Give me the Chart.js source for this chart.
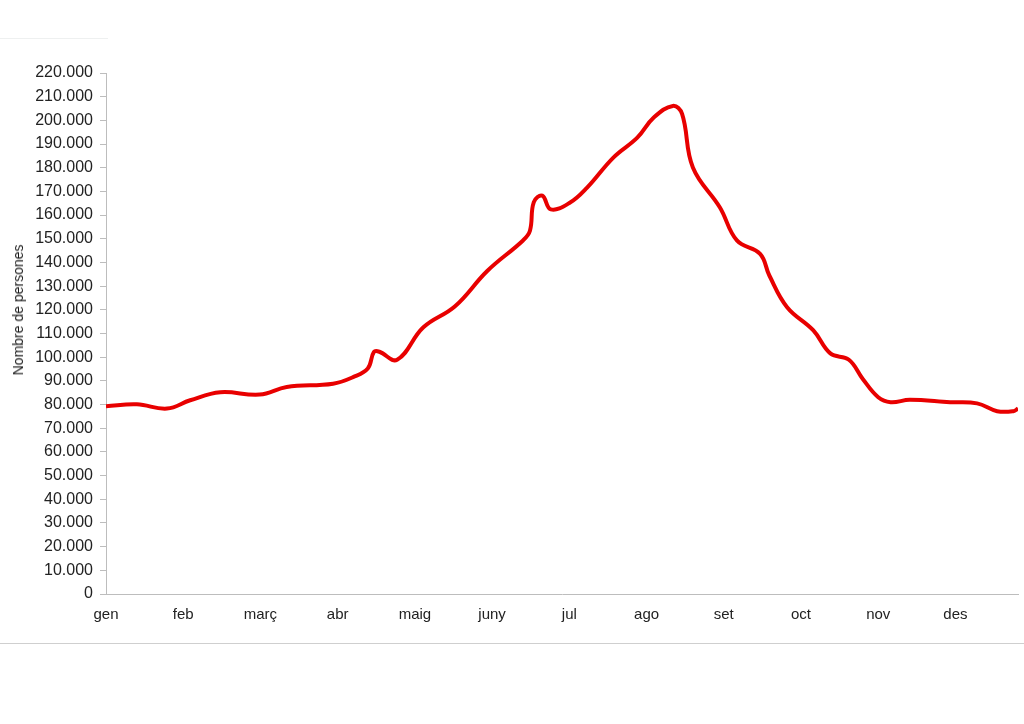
<!DOCTYPE html>
<html>
<head>
<meta charset="utf-8">
<script src="https://cdn.jsdelivr.net/npm/chart.js@4.4.0/dist/chart.umd.min.js"></script>
<style>
    body { margin: 0; background: #fff; }
    #wrap { position: relative; width: 1024px; height: 724px; }
    #chart { position: absolute; left: 0; top: 0; }
    .ytitle {
        position: absolute; left: 18px; top: 310px;
        transform: translate(-50%, -50%) rotate(-90deg);
        font: 14px "Liberation Sans", Arial, sans-serif; color: #1a1a1a;
        white-space: nowrap;
    }
    .frame-bottom { position: absolute; left: 0; top: 643px; width: 1024px; border-top: 1px solid #cfcfcf; }
    .frame-top { position: absolute; left: 0; top: 38px; width: 108px; border-top: 1px solid #eef0f0; }
</style>
</head>
<body>
<div id="wrap">
    <canvas id="chart" width="1024" height="724"></canvas>
    <div class="ytitle">Nombre de persones</div>
    <div class="frame-top"></div>
    <div class="frame-bottom"></div>
</div>
<script>
// month labels on the x axis
const months = ['gen', 'feb', 'març', 'abr', 'maig', 'juny', 'jul', 'ago', 'set', 'oct', 'nov', 'des'];

// position along the year, in months from 1 January
const monthPos = [0, 0.40, 0.79, 1.09, 1.48, 1.99, 2.34, 2.94, 3.20, 3.39, 3.47, 3.54, 3.77,
    4.11, 4.52, 4.94, 5.40, 5.49, 5.54, 5.65, 5.76, 6.01, 6.23, 6.57, 6.88,
    7.09, 7.34, 7.46, 7.60, 7.95, 8.17, 8.47, 8.59, 8.82, 9.16, 9.38, 9.62, 9.80,
    10.0, 10.16, 10.41, 10.93, 11.28, 11.54, 11.75, 11.81];

// number of persons
const persons = [79300, 80100, 78300, 81800, 85200, 84200, 87400, 88800, 91600, 95200, 102200, 102300, 98900,
    112600, 121500, 136500, 149300, 153400, 165500, 168200, 162400, 165300, 171600, 184300, 192700,
    201100, 206100, 202700, 180100, 163200, 149300, 143600, 134500, 121100, 111300, 101600, 98900, 90800,
    83100, 81000, 82000, 81000, 80500, 77200, 77200, 78300];

const yMax = 220000
const yStep = 10000
const xMax = 11.81

let points = []
for (let i = 0; i < monthPos.length; i++) {
    points.push({x: monthPos[i], y: persons[i]})
}

function thousands(v) {
    return String(v).replace(/\B(?=(\d{3})+(?!\d))/g, '.');
}

const config = {
    type: 'line',
    data: {
        datasets: [{
            data: points,
            borderColor: 'rgb(232, 0, 0)',
            borderWidth: 4,
            pointRadius: 0,
            fill: false,
            tension: 0.4,
        }]
    },
    options: {
        responsive: false,
        animation: false,
        devicePixelRatio: 1,
        layout: {padding: {left: 0, right: 6, top: 73, bottom: 80}},
        plugins: {legend: {display: false}, tooltip: {enabled: false}},
        scales: {
            x: {
                type: 'linear',
                min: 0,
                max: xMax,
                afterBuildTicks: (scale) => {
                    scale.ticks = months.map((m, i) => ({value: i}))
                },
                afterFit: (scale) => { scale.height = 50 },
                grid: {display: false, drawTicks: false},
                border: {display: true, color: '#bdbdbd', width: 1},
                ticks: {
                    autoSkip: false,
                    maxRotation: 0,
                    padding: 12,
                    color: '#222',
                    font: {family: '"Liberation Sans", Arial, sans-serif', size: 15},
                    callback: (v) => months[v],
                }
            },
            y: {
                min: 0,
                max: yMax,
                afterFit: (scale) => { scale.width = 106 },
                grid: {drawOnChartArea: false, drawTicks: true, tickLength: 6, color: '#bdbdbd'},
                border: {display: true, color: '#bdbdbd', width: 1},
                ticks: {
                    stepSize: yStep,
                    padding: 7,
                    color: '#222',
                    font: {family: '"Liberation Sans", Arial, sans-serif', size: 16},
                    callback: (v) => thousands(v),
                }
            }
        }
    }
};

let myChart = new Chart(document.getElementById('chart'), config);
</script>
</body>
</html>
